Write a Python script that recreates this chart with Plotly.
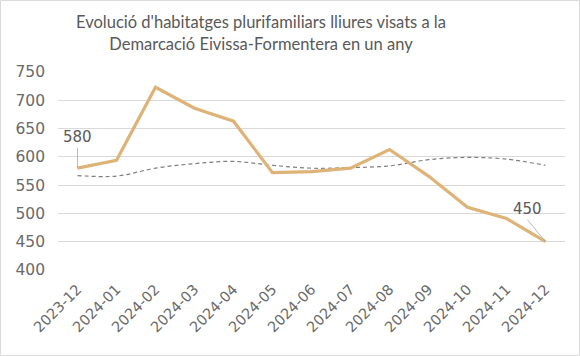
import plotly.graph_objects as go

months = ["2023-12", "2024-01", "2024-02", "2024-03", "2024-04", "2024-05", "2024-06",
          "2024-07", "2024-08", "2024-09", "2024-10", "2024-11", "2024-12"]
visats = [580, 594, 723, 686, 663, 572, 574, 580, 613, 566, 511, 491, 450]
tendencia = [567, 566, 580, 588, 592, 585, 580, 581, 584, 595, 599, 596, 585]
y_ticks = [400, 450, 500, 550, 600, 650, 700, 750]

FONT = "Lato"
TICKFONT = "DejaVu Sans"
TXT = "#595959"
TICKTXT = "#6a6a6a"

fig = go.Figure()
fig.add_trace(go.Scatter(x=months, y=tendencia, mode="lines",
                         line=dict(color="#7f7f7f", width=1.2, dash="4px,3px", shape="spline"),
                         hoverinfo="skip", showlegend=False))
fig.add_trace(go.Scatter(x=months, y=visats, mode="lines",
                         line=dict(color="#DEB378", width=3.2),
                         showlegend=False))

fig.add_annotation(x=months[0], y=visats[0], text=str(visats[0]), showarrow=True,
                   arrowhead=0, arrowwidth=0.8, arrowcolor="#a6a6a6", ax=0, ay=-20,
                   font=dict(family=TICKFONT, size=15, color=TXT), yanchor="bottom")
fig.add_annotation(x=months[-1], y=visats[-1], text=str(visats[-1]), showarrow=True,
                   arrowhead=0, arrowwidth=0.8, arrowcolor="#a6a6a6", ax=-18, ay=-22,
                   font=dict(family=TICKFONT, size=15, color=TXT), yanchor="bottom")

fig.add_shape(type="rect", xref="paper", yref="paper",
              x0=-58/507 + 0.001, x1=1 + 15/507 - 0.001,
              y0=-86/198 + 0.003, y1=1 + 72/198 - 0.003,
              line=dict(color="#d9d9d9", width=1), layer="below")

fig.update_layout(
    width=580, height=356,
    margin=dict(l=58, r=15, t=72, b=86),
    paper_bgcolor="white", plot_bgcolor="white",
    title=dict(text="Evolució d'habitatges plurifamiliars lliures visats a la<br>Demarcació Eivissa-Formentera en un any",
               x=261/580, xref="container", xanchor="center", y=0.92, yanchor="top",
               font=dict(family=FONT, size=16.5, color=TXT)),
    font=dict(family=FONT, color=TXT),
)
fig.update_xaxes(type="category", range=[-0.5, 12.5], tickangle=-45, showgrid=False,
                 showline=False, ticks="", ticklabelstandoff=7,
                 tickfont=dict(family=TICKFONT, size=14.5, color=TICKTXT))
fig.update_yaxes(range=[400, 750], tickvals=y_ticks, showgrid=True, gridcolor="#d9d9d9",
                 gridwidth=1, zeroline=False, showline=False, ticks="",
                 tickfont=dict(family=TICKFONT, size=15.5, color=TICKTXT), ticklabelstandoff=12)

fig.write_html("out.html", config={"displayModeBar": False},
               post_script="document.body.style.margin='0';")
